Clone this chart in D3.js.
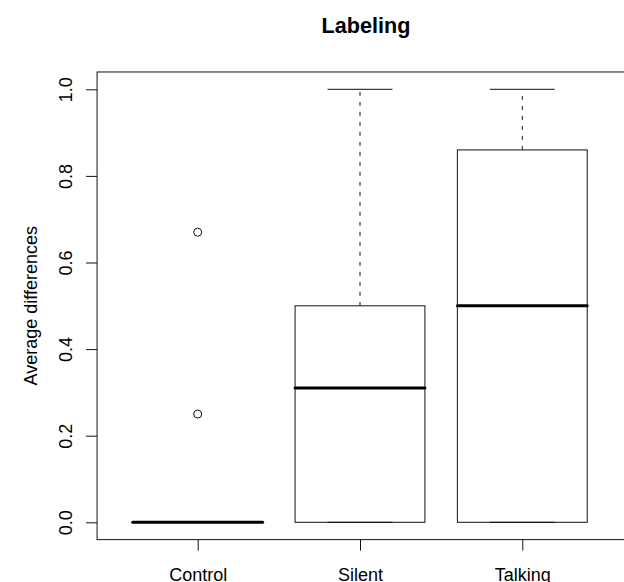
<!DOCTYPE html>
<html>
<head>
<meta charset="utf-8">
<script src="https://cdn.jsdelivr.net/npm/d3@7"></script>
<style>
  html, body { margin: 0; padding: 0; background: #fff; }
  svg { display: block; font-family: "Liberation Sans", Arial, Helvetica, sans-serif; }
</style>
</head>
<body>
<svg id="chart" width="624" height="582"></svg>
<script>
// Groups and their box-plot summaries
const categories   = ["Control", "Silent", "Talking"];
const whiskerLow   = [0.00, 0.00, 0.00];
const quartileLow  = [0.00, 0.00, 0.00];
const medians      = [0.00, 0.31, 0.50];
const quartileHigh = [0.00, 0.50, 0.86];
const whiskerHigh  = [0.00, 1.00, 1.00];
const outliers     = [[0.25, 0.67], [], []];
const yTicks       = [0.0, 0.2, 0.4, 0.6, 0.8, 1.0];

const title  = "Labeling";
const yTitle = "Average differences";

const svg = d3.select("#chart");
const ink = "#111";

// Group positions 1..n, padded like a base-graphics box plot
const x = d3.scaleLinear().domain([1, 3]).range([197.7, 522.3]);
const y = d3.scaleLinear().domain([0, 1]).range([522.3, 89.3]);
const xLo = 0.38, xHi = 3.62, yLo = -0.04, yHi = 1.04;

const boxW = x(1.8) - x(1);      // 0.8 of the group spacing
const capW = boxW / 2;

const groups = categories.map((c, i) => ({
  name: c, pos: i + 1,
  wl: whiskerLow[i], q1: quartileLow[i], med: medians[i],
  q3: quartileHigh[i], wh: whiskerHigh[i], out: outliers[i]
}));

const g = svg.append("g");

// whiskers (dashed)
g.selectAll(".whisker-lo").data(groups).join("line")
  .attr("x1", d => x(d.pos)).attr("x2", d => x(d.pos))
  .attr("y1", d => y(d.wl)).attr("y2", d => y(d.q1))
  .attr("stroke", ink).attr("stroke-width", 1).attr("stroke-dasharray", "4,6");
g.selectAll(".whisker-hi").data(groups).join("line")
  .attr("x1", d => x(d.pos)).attr("x2", d => x(d.pos))
  .attr("y1", d => y(d.q3)).attr("y2", d => y(d.wh))
  .attr("stroke", ink).attr("stroke-width", 1).attr("stroke-dasharray", "4,6");

// staples
["wl", "wh"].forEach(k => {
  g.selectAll(".cap-" + k).data(groups).join("line")
    .attr("x1", d => x(d.pos) - capW / 2).attr("x2", d => x(d.pos) + capW / 2)
    .attr("y1", d => y(d[k])).attr("y2", d => y(d[k]))
    .attr("stroke", ink).attr("stroke-width", 1);
});

// boxes
g.selectAll(".box").data(groups).join("rect")
  .attr("x", d => x(d.pos) - boxW / 2)
  .attr("y", d => y(d.q3))
  .attr("width", boxW)
  .attr("height", d => y(d.q1) - y(d.q3))
  .attr("fill", "none").attr("stroke", ink).attr("stroke-width", 1);

// medians
g.selectAll(".median").data(groups).join("line")
  .attr("x1", d => x(d.pos) - boxW / 2).attr("x2", d => x(d.pos) + boxW / 2)
  .attr("y1", d => y(d.med)).attr("y2", d => y(d.med))
  .attr("stroke", "#000").attr("stroke-width", 3).attr("stroke-linecap", "round");

// outliers
groups.forEach(d => {
  g.selectAll(null).data(d.out).join("circle")
    .attr("cx", x(d.pos)).attr("cy", v => y(v)).attr("r", 4)
    .attr("fill", "none").attr("stroke", ink).attr("stroke-width", 1);
});

// plot frame
svg.append("rect")
  .attr("x", x(xLo)).attr("y", y(yHi))
  .attr("width", x(xHi) - x(xLo) + 2).attr("height", y(yLo) - y(yHi))
  .attr("fill", "none").attr("stroke", ink).attr("stroke-width", 1);

// y axis
const yAxis = d3.axisLeft(y).tickValues(yTicks).tickFormat(d3.format(".1f"))
  .tickSize(11).tickPadding(0);
const ya = svg.append("g").attr("transform", `translate(${x(xLo)},0)`).call(yAxis);
ya.select(".domain").remove();
ya.selectAll(".tick line").attr("stroke", ink);
ya.selectAll(".tick text")
  .attr("transform", "rotate(-90)")
  .attr("x", 0).attr("y", -25).attr("dy", 0)
  .attr("text-anchor", "middle")
  .attr("fill", "#000").style("font-size", "18px");

// x axis
const xAxis = d3.axisBottom(x).tickValues(groups.map(d => d.pos))
  .tickFormat((d, i) => categories[i]).tickSize(11).tickPadding(0);
const xa = svg.append("g").attr("transform", `translate(0,${y(yLo)})`).call(xAxis);
xa.select(".domain").remove();
xa.selectAll(".tick line").attr("stroke", ink);
xa.selectAll(".tick text").attr("y", 41).attr("dy", 0)
  .attr("fill", "#000").style("font-size", "18px");

// titles
svg.append("text")
  .attr("x", 366).attr("y", 33)
  .attr("text-anchor", "middle")
  .style("font-size", "21.6px").style("font-weight", "bold")
  .text(title);

svg.append("text")
  .attr("transform", `translate(37,${(y(yLo) + y(yHi)) / 2}) rotate(-90)`)
  .attr("text-anchor", "middle")
  .style("font-size", "18px")
  .text(yTitle);
</script>
</body>
</html>
